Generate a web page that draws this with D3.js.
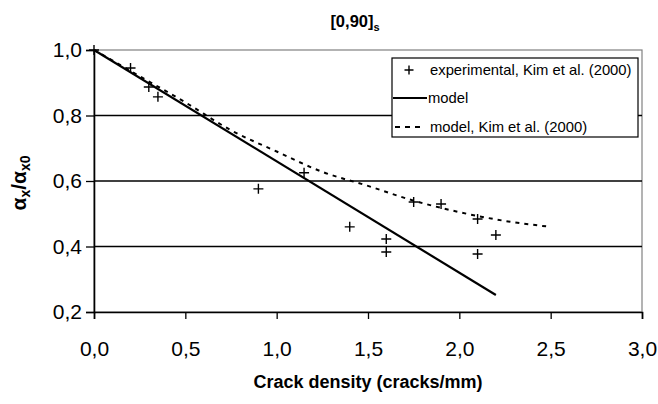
<!DOCTYPE html>
<html>
<head>
<meta charset="utf-8">
<script src="https://cdn.jsdelivr.net/npm/d3@7"></script>
<style>
body { margin: 0; background: #fff; }
svg { font-family: "Liberation Sans", Arial, sans-serif; }
</style>
</head>
<body>
<svg id="chart" width="658" height="404"></svg>
<script>
// experimental points, Kim et al. (2000)
var expX = [0, 0.2, 0.3, 0.35, 0.9, 1.15, 1.4, 1.6, 1.6, 1.75, 1.9, 2.1, 2.1, 2.2]
var expY = [1.0, 0.945, 0.887, 0.857, 0.576, 0.625, 0.46, 0.423, 0.383, 0.536, 0.53, 0.484, 0.377, 0.435]
// model (straight line)
var modelX = [0, 2.2]
var modelY = [1.0, 0.252]
// model, Kim et al. (2000)
var kimX = [0, 0.25, 0.5, 0.75, 1.0, 1.25, 1.5, 1.75, 2.0, 2.25, 2.5]
var kimY = [1.0, 0.92, 0.84, 0.755, 0.69, 0.628, 0.585, 0.54, 0.505, 0.478, 0.46]

var xTicks = [0, 0.5, 1, 1.5, 2, 2.5, 3]
var yTicks = [0.2, 0.4, 0.6, 0.8, 1.0]
var gridTicks = [0.4, 0.6, 0.8]

var svg = d3.select("#chart")
var mLeft = 94, mRight = 642, mTop = 50, mBottom = 312

var x = d3.scaleLinear().domain([0, 3]).range([mLeft, mRight])
var y = d3.scaleLinear().domain([0.2, 1.0]).range([mBottom, mTop])
var fmt = function(d) { return d3.format(".1f")(d).replace(".", ",") }

// plot area frame (grey) and grid lines
svg.append("rect")
    .attr("x", mLeft).attr("y", mTop)
    .attr("width", mRight - mLeft).attr("height", mBottom - mTop)
    .attr("fill", "none").attr("stroke", "#808080").attr("stroke-width", 1.2)

svg.append("g").selectAll("line")
    .data(gridTicks)
    .enter().append("line")
        .attr("x1", mLeft).attr("x2", mRight)
        .attr("y1", function(d) { return y(d) }).attr("y2", function(d) { return y(d) })
        .attr("stroke", "#000").attr("stroke-width", 1.3)

// axes
var xAxis = svg.append("g")
    .attr("transform", "translate(0," + mBottom + ")")
    .call(d3.axisBottom(x).tickValues(xTicks).tickFormat(fmt).tickSizeOuter(0).tickSize(7).tickPadding(22))
var yAxis = svg.append("g")
    .attr("transform", "translate(" + mLeft + ",0)")
    .call(d3.axisLeft(y).tickValues(yTicks).tickFormat(fmt).tickSizeOuter(0).tickSize(8).tickPadding(4))

svg.selectAll(".domain").attr("stroke", "#000").attr("stroke-width", 1.6)
svg.selectAll(".tick line").attr("stroke", "#000").attr("stroke-width", 1.3)
svg.selectAll(".tick text")
    .attr("fill", "#000")
    .style("font-size", "21px")
    .style("font-family", "'Liberation Sans', Arial, sans-serif")

// series
var kim = d3.zip(kimX, kimY)
svg.append("path")
    .datum(kim)
    .attr("d", d3.line().curve(d3.curveMonotoneX)
        .x(function(d) { return x(d[0]) })
        .y(function(d) { return y(d[1]) }))
    .attr("fill", "none")
    .attr("stroke", "#000")
    .attr("stroke-width", 2)
    .attr("stroke-dasharray", "4,5")

svg.append("path")
    .datum(d3.zip(modelX, modelY))
    .attr("d", d3.line().x(function(d) { return x(d[0]) }).y(function(d) { return y(d[1]) }))
    .attr("fill", "none")
    .attr("stroke", "#000")
    .attr("stroke-width", 2.2)

function plus(sel, s) {
    sel.append("path")
        .attr("d", "M" + (-s) + ",0H" + s + "M0," + (-s) + "V" + s)
        .attr("stroke", "#000").attr("stroke-width", 1.4).attr("fill", "none")
}
svg.append("g").selectAll("g")
    .data(d3.zip(expX, expY))
    .enter().append("g")
        .attr("transform", function(d) { return "translate(" + x(d[0]) + "," + y(d[1]) + ")" })
        .each(function() { plus(d3.select(this), 5) })

// legend
var lg = svg.append("g").attr("transform", "translate(392,58)")
lg.append("rect")
    .attr("width", 246).attr("height", 79)
    .attr("fill", "#fff").attr("stroke", "#000").attr("stroke-width", 1.2)
var items = ["experimental, Kim et al. (2000)", "model", "model, Kim et al. (2000)"]
var rowY = [12, 40, 69]
plus(lg.append("g").attr("transform", "translate(17," + rowY[0] + ")"), 4.5)
lg.append("line").attr("x1", 1).attr("x2", 35).attr("y1", rowY[1]).attr("y2", rowY[1])
    .attr("stroke", "#000").attr("stroke-width", 2)
lg.append("line").attr("x1", 3).attr("x2", 33).attr("y1", rowY[2]).attr("y2", rowY[2])
    .attr("stroke", "#000").attr("stroke-width", 2).attr("stroke-dasharray", "5,5")
lg.selectAll("text.item")
    .data(items)
    .enter().append("text")
        .attr("class", "item")
        .attr("x", function(d, i) { return i == 1 ? 36 : 38 })
        .attr("y", function(d, i) { return rowY[i] })
        .attr("dy", "0.35em")
        .style("font-size", "14.8px")
        .text(function(d) { return d })

// title and axis labels
var title = svg.append("text")
    .attr("x", 355).attr("y", 27)
    .attr("text-anchor", "middle")
    .style("font-size", "16.5px").style("font-weight", "bold")
title.append("tspan").text("[0,90]")
title.append("tspan").attr("dy", 4).style("font-size", "11px").text("s")

svg.append("text")
    .attr("x", 368).attr("y", 388)
    .attr("text-anchor", "middle")
    .style("font-size", "18px").style("font-weight", "bold")
    .text("Crack density (cracks/mm)")

var yl = svg.append("text")
    .attr("transform", "translate(26,183) rotate(-90)")
    .attr("text-anchor", "middle")
    .style("font-size", "21px").style("font-weight", "bold")
yl.append("tspan").text("α")
yl.append("tspan").attr("dy", 4).style("font-size", "14px").text("x")
yl.append("tspan").attr("dy", -4).text("/α")
yl.append("tspan").attr("dy", 4).style("font-size", "14px").text("x0")
</script>
</body>
</html>
